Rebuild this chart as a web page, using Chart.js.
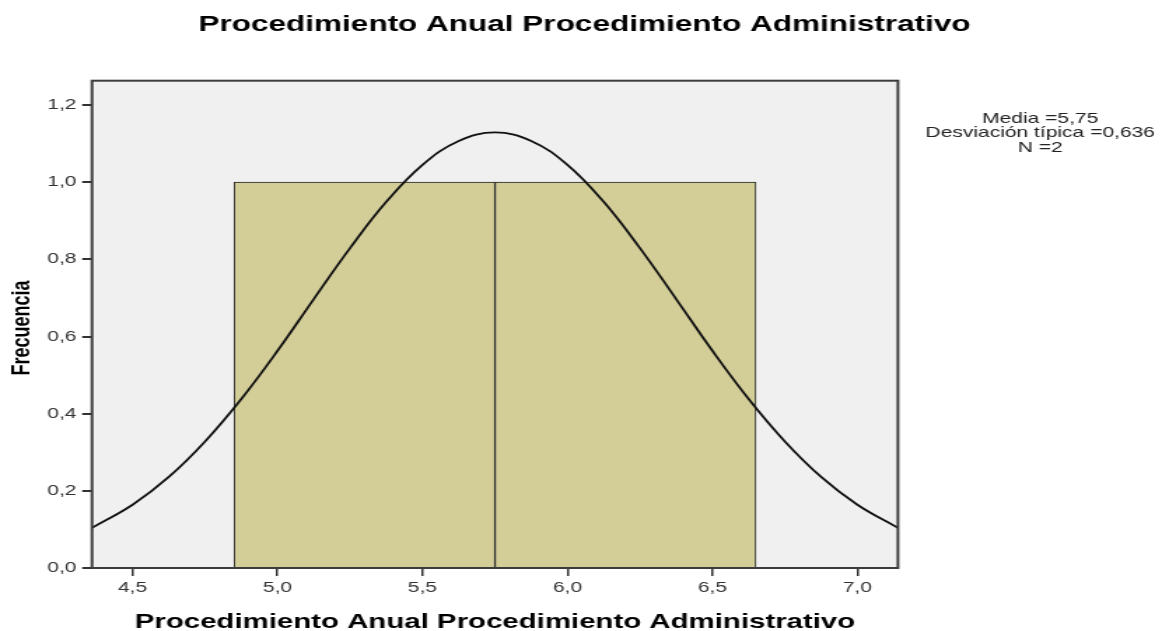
<!DOCTYPE html>
<html>
<head>
<meta charset="utf-8">
<script src="https://cdn.jsdelivr.net/npm/chart.js@4"></script>
<style>
  html, body { margin: 0; padding: 0; background: #fff; overflow: hidden; }
  /* the reference image is stretched horizontally, so the canvas is too */
  #chart { display: block; transform: scaleX(1.4); transform-origin: 0 0; }
</style>
</head>
<body>
<canvas id="chart" width="831" height="631"></canvas>
<script>
// Histogram bins (centre of each bin) and counts
const binCenters = [5.3, 6.2];
const binCounts = [1, 1];

// Normal curve
const curveX = [4.36, 4.5, 4.625, 4.75, 4.875, 5.0, 5.125, 5.25, 5.375, 5.5, 5.625, 5.75,
                5.875, 6.0, 6.125, 6.25, 6.375, 6.5, 6.625, 6.75, 6.875, 7.0, 7.14];
const curveY = [0.104, 0.164, 0.236, 0.328, 0.438, 0.563, 0.697, 0.829, 0.949, 1.045, 1.107, 1.129,
                1.107, 1.045, 0.949, 0.829, 0.697, 0.563, 0.438, 0.328, 0.236, 0.164, 0.104];

const chartTitle = 'Procedimiento Anual Procedimiento Administrativo';
const xTitle = 'Procedimiento Anual Procedimiento Administrativo';
const yTitle = 'Frecuencia';
const statLines = ['Media =5,75', 'Desviación típica =0,636', 'N =2'];

const FONT = "'Liberation Sans', Arial, sans-serif";
const comma = v => v.toFixed(1).replace('.', ',');

const frameAndText = {
    id: 'frameAndText',
    beforeDraw(chart) {
        const { ctx, chartArea: a } = chart;
        ctx.save();
        ctx.fillStyle = '#f0f0f0';
        ctx.fillRect(a.left, a.top, a.right - a.left, a.bottom - a.top);
        ctx.restore();
    },
    afterDraw(chart) {
        const { ctx, chartArea: a } = chart;
        ctx.save();
        ctx.strokeStyle = '#3c3c3c';
        ctx.lineWidth = 2;
        ctx.strokeRect(a.left, a.top, a.right - a.left, a.bottom - a.top);

        ctx.fillStyle = '#000';
        ctx.textAlign = 'center';
        ctx.textBaseline = 'alphabetic';
        ctx.font = 'bold 22.5px ' + FONT;
        ctx.fillText(chartTitle, 417.5, 31);

        ctx.font = 'bold 21px ' + FONT;
        ctx.fillText(xTitle, (a.left + a.right) / 2, 628);

        ctx.save();
        ctx.translate(15.7, 328);
        ctx.rotate(-Math.PI / 2);
        ctx.textBaseline = 'middle';
        ctx.font = 'bold 18px ' + FONT;
        ctx.fillText(yTitle, 0, 0);
        ctx.restore();

        ctx.fillStyle = '#222';
        ctx.font = '15px ' + FONT;
        const base = [123, 137, 152];
        statLines.forEach((t, i) => ctx.fillText(t, 743, base[i]));
        ctx.restore();
    }
};

const ctx = document.getElementById('chart').getContext('2d');
new Chart(ctx, {
    type: 'bar',
    data: {
        datasets: [{
            type: 'line',
            data: curveX.map((x, i) => ({ x: x, y: curveY[i] })),
            borderColor: '#111',
            borderWidth: 1.8,
            pointRadius: 0,
            tension: 0.4,
            fill: false,
            order: 0
        }, {
            type: 'bar',
            data: binCenters.map((x, i) => ({ x: x, y: binCounts[i] })),
            backgroundColor: '#d3ce98',
            borderColor: '#222',
            borderWidth: 1,
            barThickness: 'flex',
            categoryPercentage: 1,
            barPercentage: 1,
            order: 1
        }]
    },
    options: {
        responsive: false,
        devicePixelRatio: 1,
        animation: false,
        layout: { padding: { left: 0, right: 189.6, top: 80.7, bottom: 0 } },
        plugins: {
            legend: { display: false },
            tooltip: { enabled: false }
        },
        scales: {
            x: {
                type: 'linear',
                min: 4.36,
                max: 7.14,
                offset: false,
                afterFit: s => { s.height = 63; },
                border: { display: false },
                grid: {
                    offset: false,
                    drawOnChartArea: false,
                    drawTicks: true,
                    tickLength: 8,
                    color: '#333',
                    lineWidth: 1.5
                },
                ticks: {
                    stepSize: 0.5,
                    includeBounds: false,
                    padding: 3,
                    maxRotation: 0,
                    color: '#333',
                    font: { family: FONT, size: 15 },
                    callback: v => comma(v)
                }
            },
            y: {
                min: 0,
                max: 1.263,
                afterFit: s => { s.width = 65.7; },
                border: { display: false },
                grid: {
                    drawOnChartArea: false,
                    drawTicks: true,
                    tickLength: 7,
                    color: '#333',
                    lineWidth: 2
                },
                ticks: {
                    stepSize: 0.2,
                    includeBounds: false,
                    padding: 4,
                    color: '#333',
                    font: { family: FONT, size: 15 },
                    callback: v => comma(v)
                }
            }
        }
    },
    plugins: [frameAndText]
});
</script>
</body>
</html>
